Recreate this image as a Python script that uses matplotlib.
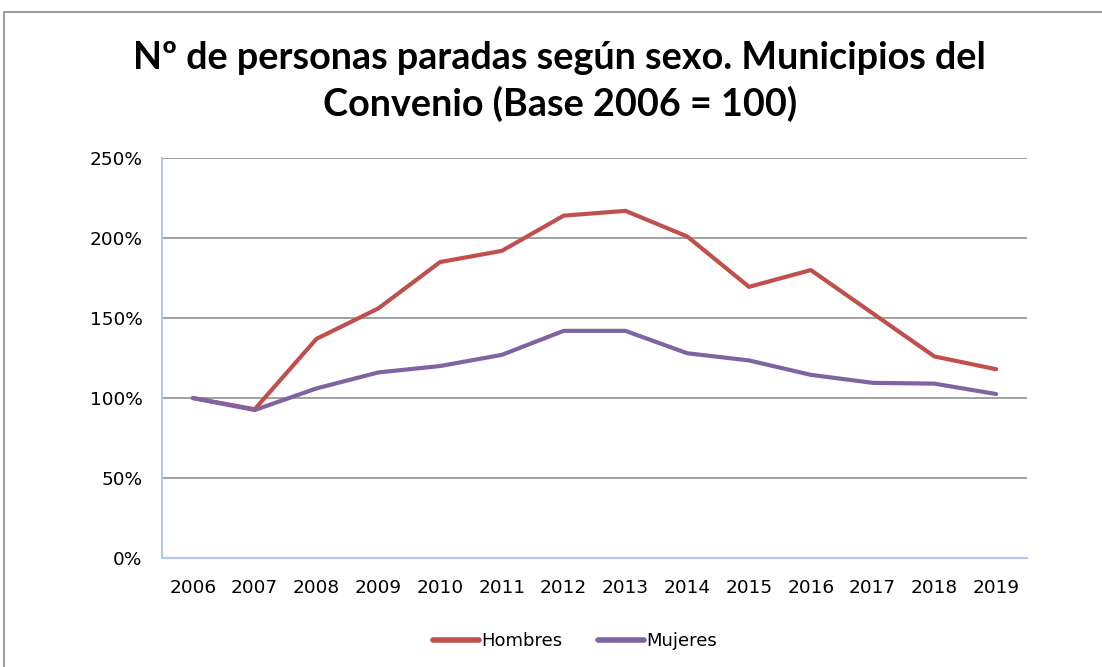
import matplotlib
matplotlib.use("Agg")
import matplotlib.pyplot as plt
from matplotlib.patches import Rectangle
from matplotlib.ticker import FuncFormatter, MultipleLocator

years = ["2006", "2007", "2008", "2009", "2010", "2011", "2012",
         "2013", "2014", "2015", "2016", "2017", "2018", "2019"]
hombres = [100, 93, 137, 156, 185, 192, 214, 217, 201, 169.5, 180, 153, 126, 118]
mujeres = [100, 92.5, 106, 116, 120, 127, 142, 142, 128, 123.5, 114.5, 109.5, 109, 102.5]

title = "Nº de personas paradas según sexo. Municipios del\nConvenio (Base 2006 = 100)"

plt.rcParams['font.family'] = ['DejaVu Sans']

fig = plt.figure(figsize=(11.02, 6.67), dpi=100)
ax = fig.add_axes([0.147, 0.1634, 0.785, 0.5996])

x = range(len(years))
ax.plot(x, hombres, color='#C0504D', lw=3, label='Hombres', solid_capstyle='round')
ax.plot(x, mujeres, color='#8064A2', lw=3, label='Mujeres', solid_capstyle='round')

ax.set_xlim(-0.5, len(years) - 0.5)
ax.set_ylim(0, 250)
ax.yaxis.set_major_locator(MultipleLocator(50))
ax.yaxis.set_major_formatter(FuncFormatter(lambda v, p: f"{v:.0f}%"))
ax.set_xticks(list(x))
ax.set_xticklabels(years)
ax.tick_params(axis='both', length=0, labelsize=13.3, colors='#000000')
ax.tick_params(axis='y', pad=14)
ax.tick_params(axis='x', pad=15)

ax.grid(axis='y', color='#868686', lw=1.1)
ax.set_axisbelow(True)
for s in ['top', 'right']:
    ax.spines[s].set_visible(False)
ax.spines['left'].set_color('#B4C7EE')
ax.spines['bottom'].set_color('#B4C7EE')
ax.spines['left'].set_linewidth(1.5)
ax.spines['bottom'].set_linewidth(1.5)

fig.text(0.508, 0.878, title, ha='center', va='center', fontsize=27.2,
         fontweight='bold', linespacing=1.38, family=['Lato', 'DejaVu Sans'])

leg = fig.legend(loc='center', bbox_to_anchor=(0.522, 0.039), ncol=2, frameon=False,
                 fontsize=13, handlelength=2.5, handletextpad=0.15, columnspacing=2.0)
for h in leg.get_lines():
    h.set_linewidth(4)

fig.patches.append(Rectangle((4 / 1102, -0.1), 1.2, 1 - 12 / 667 + 0.1,
                             transform=fig.transFigure, fill=False,
                             edgecolor='#8C8C8C', lw=1.2))

fig.savefig("out.png", dpi=100)
